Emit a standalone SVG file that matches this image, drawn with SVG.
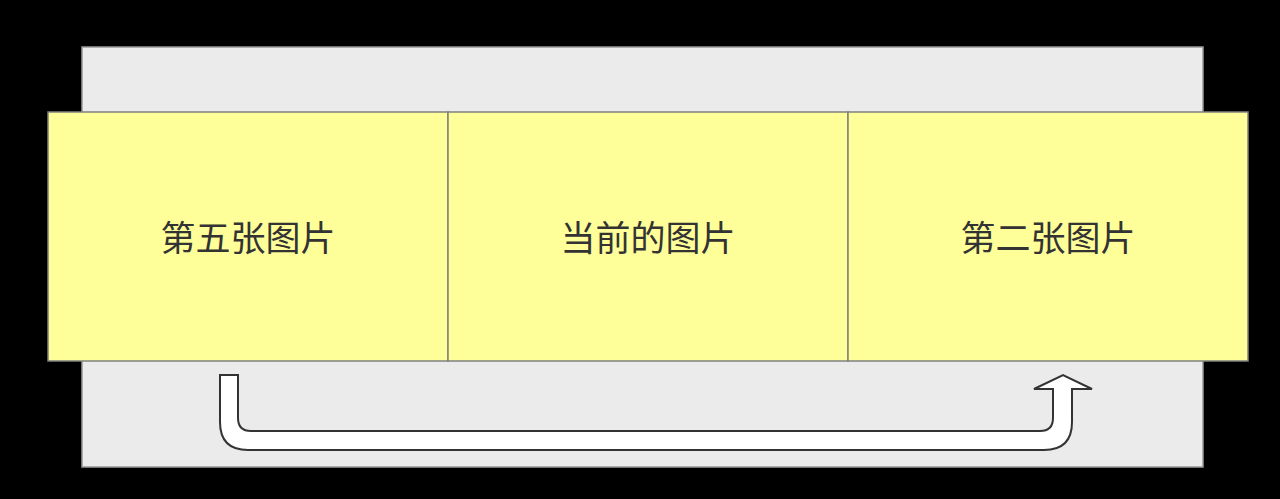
<svg xmlns="http://www.w3.org/2000/svg" width="1280" height="499" viewBox="0 0 1280 499">
<style>
.box{fill:#ffff99;stroke:#808080;stroke-width:1.5}
.lbl{font-family:"Noto Sans CJK SC","Noto Sans",sans-serif;font-size:35px;fill:#333333;text-anchor:middle}
</style>
<rect x="0" y="0" width="1280" height="499" fill="#000000"/>
<g id="background">
<rect x="82" y="47" width="1121" height="420" fill="#ebebeb" stroke="#999999" stroke-width="1.5"/>
</g>
<g id="node-fifth">
<rect class="box" x="48" y="112" width="400" height="249"/>
<text class="lbl" x="248" y="251">第五张图片</text>
</g>
<g id="node-current">
<rect class="box" x="448" y="112" width="400" height="249"/>
<text class="lbl" x="648" y="251">当前的图片</text>
</g>
<g id="node-second">
<rect class="box" x="848" y="112" width="400" height="249"/>
<text class="lbl" x="1048" y="251">第二张图片</text>
</g>
<g id="connectors">
<path d="M220,375 L238,375 L238,418 Q238,431 251,431 L1040,431 Q1053,431 1053,418 L1053,389 L1034,389 L1063,375 L1092,389 L1072,389 L1072,422 Q1072,450 1044,450 L248,450 Q220,450 220,422 Z" fill="#ffffff" stroke="#333333" stroke-width="2" stroke-linejoin="miter"/>
</g>
</svg>
